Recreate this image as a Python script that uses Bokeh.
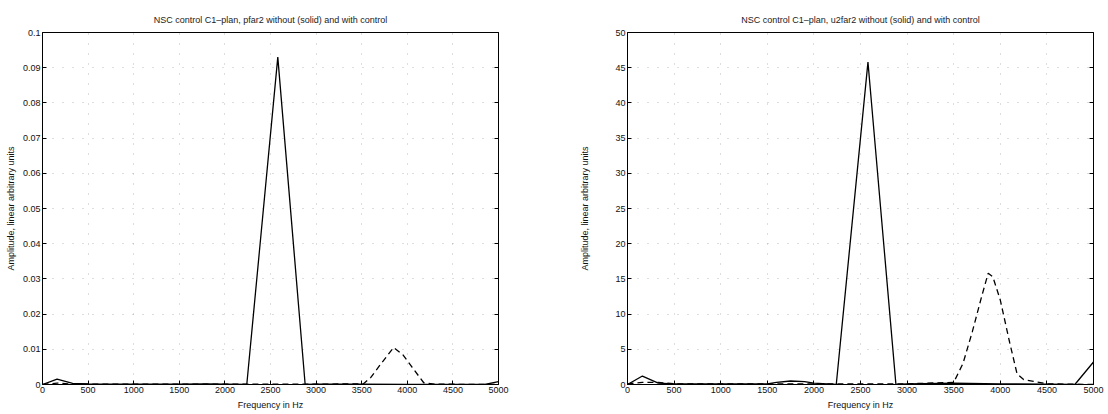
from bokeh.plotting import figure
from bokeh.layouts import row
from bokeh.models import FixedTicker, LinearAxis, Range1d
from bokeh.embed import file_html
from bokeh.resources import INLINE

# ---------------- data ----------------
# Left panel: pfar2
pf_freq_solid = [0, 160, 330, 500, 1000, 1500, 1800, 2000, 2240, 2580, 2880, 3000, 3500, 4000, 4500, 4850, 5000]
pf_amp_solid = [0.0, 0.0015, 0.0003, 0.0002, 0.0001, 0.0001, 0.0002, 0.0001, 0.0, 0.093, 0.0, 0.0001, 0.0001, 0.0, 0.0, 0.0, 0.0008]
pf_freq_dash = [0, 160, 330, 500, 1000, 2000, 3000, 3520, 3600, 3700, 3850, 3950, 4050, 4180, 4300, 5000]
pf_amp_dash = [0.0, 0.0004, 0.0001, 0.0001, 0.0001, 0.0001, 0.0001, 0.0002, 0.002, 0.0055, 0.0105, 0.0085, 0.005, 0.0005, 0.0001, 0.0]

# Right panel: u2far2
u2_freq_solid = [0, 160, 330, 500, 1000, 1500, 1600, 1750, 1900, 2000, 2240, 2580, 2880, 3000, 3500, 4000, 4500, 4800, 5000]
u2_amp_solid = [0.0, 1.2, 0.2, 0.1, 0.1, 0.1, 0.3, 0.5, 0.4, 0.2, 0.0, 45.8, 0.0, 0.1, 0.2, 0.1, 0.05, 0.0, 3.2]
u2_freq_dash = [0, 160, 330, 500, 1000, 2000, 3000, 3500, 3600, 3700, 3800, 3870, 3920, 4000, 4100, 4180, 4250, 4500, 5000]
u2_amp_dash = [0.1, 0.3, 0.3, 0.1, 0.1, 0.1, 0.1, 0.3, 3.0, 7.5, 12.5, 15.8, 15.3, 12.0, 6.0, 1.5, 0.7, 0.1, 0.0]

x_ticks = [0, 500, 1000, 1500, 2000, 2500, 3000, 3500, 4000, 4500, 5000]
pf_ticks = [0, 0.01, 0.02, 0.03, 0.04, 0.05, 0.06, 0.07, 0.08, 0.09, 0.1]
pf_tick_labels = ["0", "0.01", "0.02", "0.03", "0.04", "0.05", "0.06", "0.07", "0.08", "0.09", "0.1"]
u2_ticks = [0, 5, 10, 15, 20, 25, 30, 35, 40, 45, 50]

title_left = "NSC control C1\u2013plan, pfar2 without (solid) and with control"
title_right = "NSC control C1\u2013plan, u2far2 without (solid) and with control"
x_label = "Frequency in Hz"
y_label = "Amplitude, linear arbitrary units"

FONT = "Liberation Sans"


def make_panel(title, xs, ys, xd, yd, yticks, ymax, ylabels, border, title_standoff, ylab_standoff):
    left, right, top, bottom = border
    p = figure(width=554, height=414, output_backend="svg", toolbar_location=None,
               x_range=Range1d(0, 5000), y_range=Range1d(0, ymax),
               min_border_left=left, min_border_right=right,
               min_border_top=top, min_border_bottom=bottom,
               background_fill_color="white", border_fill_color="white")
    p.title.text = title
    p.title.align = "center"
    p.title.text_font = FONT
    p.title.text_font_size = "9px"
    p.title.text_font_style = "normal"
    p.title.text_color = "#222222"
    p.title.standoff = title_standoff

    p.outline_line_color = "black"
    p.outline_line_width = 1
    p.outline_line_alpha = 1

    p.xaxis.ticker = FixedTicker(ticks=x_ticks)
    p.yaxis.ticker = FixedTicker(ticks=yticks)
    if ylabels is not None:
        p.yaxis.major_label_overrides = {t: l for t, l in zip(yticks, ylabels)}
    for ax in (p.xaxis[0], p.yaxis[0]):
        ax.major_tick_in = 4
        ax.major_tick_out = 0
        ax.minor_tick_in = 0
        ax.minor_tick_out = 0
        ax.axis_line_color = "black"
        ax.major_tick_line_color = "black"
        ax.major_label_text_font = FONT
        ax.major_label_text_font_size = "9px"
        ax.major_label_text_color = "#111111"
        ax.axis_label_text_font = FONT
        ax.axis_label_text_font_size = "9px"
        ax.axis_label_text_font_style = "normal"
        ax.axis_label_text_color = "#111111"
        ax.major_label_standoff = 2
    p.xaxis.axis_label_standoff = 4
    p.yaxis.axis_label_standoff = ylab_standoff
    p.xaxis.axis_label = x_label
    p.yaxis.axis_label = y_label

    # MATLAB-like box ticks on the right side (labels not drawn)
    right_ax = LinearAxis(ticker=FixedTicker(ticks=yticks), major_label_text_font_size="1px",
                          major_label_text_color=None,
                          major_tick_in=4, major_tick_out=0, minor_tick_in=0, minor_tick_out=0,
                          axis_line_color="black", major_label_standoff=0)
    p.add_layout(right_ax, "right")

    p.xgrid.ticker = FixedTicker(ticks=x_ticks)
    p.ygrid.ticker = FixedTicker(ticks=yticks)
    for g in (p.xgrid[0], p.ygrid[0]):
        g.grid_line_color = "#888888"
        g.grid_line_dash = "1 9"
        g.grid_line_alpha = 0.55
        g.grid_line_width = 1

    p.line(xs, ys, line_color="black", line_width=1.3)
    p.line(xd, yd, line_color="black", line_width=1.3, line_dash="6 4")
    return p


p1 = make_panel(title_left, pf_freq_solid, pf_amp_solid, pf_freq_dash, pf_amp_dash,
                pf_ticks, 0.1, pf_tick_labels, (42, 56, 32, 30), 16, 4)
p2 = make_panel(title_right, u2_freq_solid, u2_amp_solid, u2_freq_dash, u2_amp_dash,
                u2_ticks, 50, None, (73, 15, 30, 29), 15, 22)

layout = row(p1, p2, spacing=0)
open("out.html", "w").write(file_html(layout, INLINE))
